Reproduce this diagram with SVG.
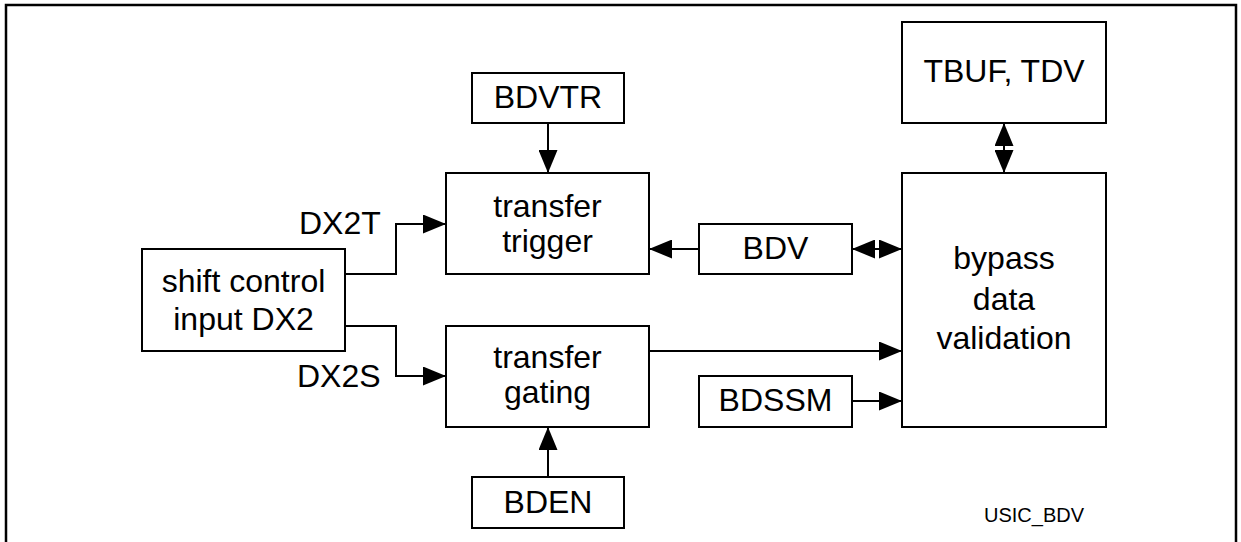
<svg xmlns="http://www.w3.org/2000/svg" width="1241" height="542" viewBox="0 0 1241 542">
<defs>
<style>
.box{fill:#fff;stroke:#000;stroke-width:2}
.t{font-family:"Liberation Sans",Arial,sans-serif;font-size:32px;fill:#000;text-anchor:middle}
.lbl{font-family:"Liberation Sans",Arial,sans-serif;font-size:32px;fill:#000}
.small{font-family:"Liberation Sans",Arial,sans-serif;font-size:20px;fill:#000}
.c{fill:none;stroke:#000;stroke-width:2}
</style>
<marker id="ah" viewBox="0 0 23 19" refX="23" refY="9.5" markerWidth="23" markerHeight="19" markerUnits="userSpaceOnUse" orient="auto-start-reverse">
<path d="M0,0 L23,9.5 L0,19 Z" fill="#000"/>
</marker>
</defs>
<rect width="1241" height="542" fill="#fff"/>
<path d="M6,542 V5 H1236 V542" fill="none" stroke="#000" stroke-width="2.5"/>

<g id="connectors">
<path class="c" d="M345,274 H396 V224 H446" marker-end="url(#ah)"/>
<path class="c" d="M345,326 H396 V376 H446" marker-end="url(#ah)"/>
<path class="c" d="M548,123 V173" marker-end="url(#ah)"/>
<path class="c" d="M548,477 V427" marker-end="url(#ah)"/>
<path class="c" d="M699,249 H649" marker-end="url(#ah)"/>
<path class="c" d="M852,249 H902" marker-start="url(#ah)" marker-end="url(#ah)"/>
<path class="c" d="M1004,123 V173" marker-start="url(#ah)" marker-end="url(#ah)"/>
<path class="c" d="M649,351 H902" marker-end="url(#ah)"/>
<path class="c" d="M852,401 H902" marker-end="url(#ah)"/>
</g>

<g id="shift-control">
<rect class="box" x="142" y="249" width="203" height="102"/>
<text class="t" x="243.5" y="292">shift control</text>
<text class="t" x="243.5" y="330">input DX2</text>
</g>
<g id="label-dx2t"><text class="lbl" x="299" y="234">DX2T</text></g>
<g id="label-dx2s"><text class="lbl" x="297" y="387">DX2S</text></g>

<g id="bdvtr">
<rect class="box" x="472" y="73" width="152" height="50"/>
<text class="t" x="548" y="108">BDVTR</text>
</g>
<g id="transfer-trigger">
<rect class="box" x="446" y="173" width="203" height="101"/>
<text class="t" x="547.5" y="217">transfer</text>
<text class="t" x="547.5" y="252">trigger</text>
</g>
<g id="transfer-gating">
<rect class="box" x="446" y="326" width="203" height="101"/>
<text class="t" x="547.5" y="368">transfer</text>
<text class="t" x="547.5" y="403">gating</text>
</g>
<g id="bden">
<rect class="box" x="472" y="477" width="152" height="51"/>
<text class="t" x="548" y="513">BDEN</text>
</g>
<g id="bdv">
<rect class="box" x="699" y="224" width="153" height="50"/>
<text class="t" x="775.5" y="259">BDV</text>
</g>
<g id="bdssm">
<rect class="box" x="699" y="376" width="153" height="51"/>
<text class="t" x="775.5" y="411">BDSSM</text>
</g>
<g id="tbuf-tdv">
<rect class="box" x="902" y="22" width="204" height="101"/>
<text class="t" x="1004" y="82">TBUF, TDV</text>
</g>
<g id="bypass">
<rect class="box" x="902" y="173" width="204" height="254"/>
<text class="t" x="1004" y="269">bypass</text>
<text class="t" x="1004" y="310">data</text>
<text class="t" x="1004" y="349">validation</text>
</g>
<g id="caption"><text class="small" x="984" y="522">USIC_BDV</text></g>
</svg>
